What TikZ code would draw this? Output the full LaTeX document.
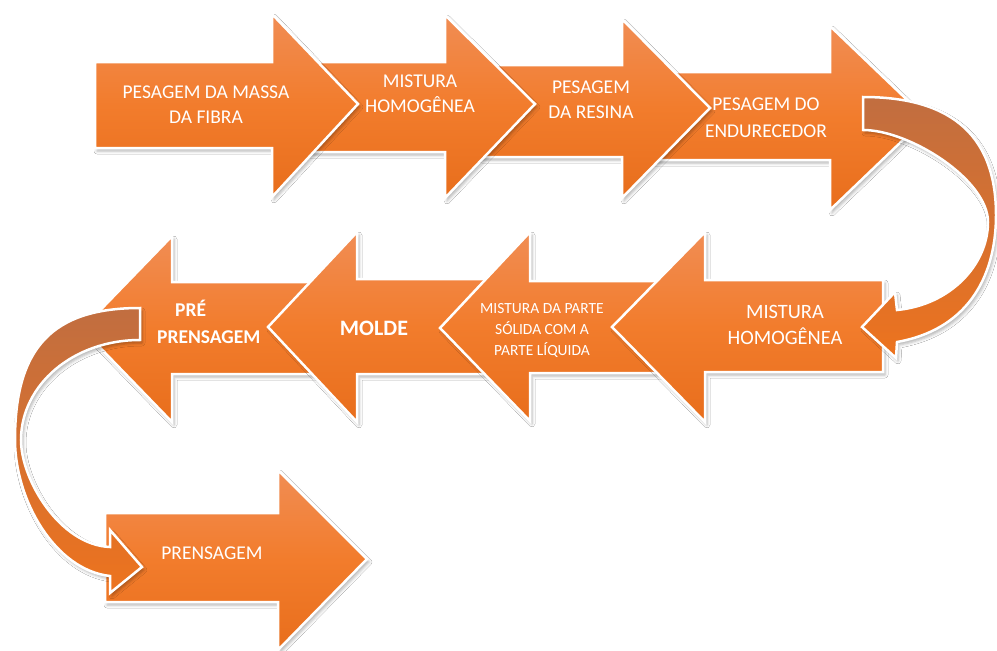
\documentclass[tikz,border=0pt]{standalone}
\usepackage{fontspec}
\setmainfont{Carlito}
\usetikzlibrary{shadows.blur}
\definecolor{oTop}{RGB}{241,141,84}
\definecolor{oMid}{RGB}{242,124,44}
\definecolor{oBot}{RGB}{232,110,28}
\definecolor{cTop}{RGB}{193,110,64}
\definecolor{cBot}{RGB}{237,115,30}
\begin{document}
\begin{tikzpicture}[x=1pt,y=-1pt,
  shad/.style={blur shadow={shadow xshift=2pt, shadow yshift=-3pt, shadow blur radius=3pt, shadow opacity=30}},
  arr/.style={shad, draw=white, line width=2.5pt, top color=oTop, bottom color=oBot, middle color=oMid},
  carr/.style={shad, draw=white, line width=2.5pt, top color=cTop, bottom color=cBot},
  lbl/.style={text=white, align=center, inner sep=0pt, font=\fontsize{19.5}{25}\selectfont},
]
\fill[white] (0,0) rectangle (997,651);
\useasboundingbox (0,0) rectangle (997,651);

% row 3
\path[arr] (105,513) -- (278,513) -- (278,470) -- (367,559) -- (278,650) -- (278,602) -- (105,602) -- cycle;
% row 2 (left pointing), back to front
\path[arr] (320,282) -- (172,282) -- (172,236) -- (82,329) -- (172,422) -- (172,374) -- (320,374) -- cycle;
\path[arr] (500,279) -- (357,279) -- (357,232) -- (268,327) -- (357,422) -- (357,374) -- (500,374) -- cycle;
\path[arr] (680,281) -- (530,281) -- (530,232) -- (440,328) -- (530,421) -- (530,373) -- (680,373) -- cycle;
\path[arr] (883,280) -- (705,280) -- (705,232) -- (612,327) -- (705,422) -- (705,372) -- (883,372) -- cycle;
% row 1, back to front
\path[arr] (650,72) -- (830,72) -- (830,26) -- (926,118) -- (830,210) -- (830,160) -- (650,160) -- cycle;
\path[arr] (480,65) -- (622,65) -- (622,19) -- (710,108) -- (622,198) -- (622,157) -- (480,157) -- cycle;
\path[arr] (300,62) -- (445,62) -- (445,15) -- (535,104) -- (445,198) -- (445,152) -- (300,152) -- cycle;
\path[arr] (95,62) -- (272,62) -- (272,14) -- (358,104) -- (272,197) -- (272,148) -- (95,148) -- cycle;

% curved arrow, right
\path[carr] (863,97) .. controls (945,97) and (996,130) .. (996,215)
  .. controls (996,280) and (965,330) .. (897,342)
  -- (896,358) -- (862,327) -- (895,292) -- (897,310)
  .. controls (950,305) and (988,265) .. (988,222)
  .. controls (988,180) and (910,130) .. (863,130) -- cycle;
% curved arrow, left
\path[carr] (140,308) .. controls (52,308) and (15,348) .. (15,440)
  .. controls (15,500) and (55,570) .. (110,576)
  -- (110,593) -- (142,567) -- (110,530) -- (110,547)
  .. controls (60,545) and (21,480) .. (21,440)
  .. controls (21,385) and (73,340) .. (140,340) -- cycle;

% labels
\node[lbl] (t1) at (206,105) {PESAGEM DA MASSA\\DA FIBRA};
\node[lbl] (t2) at (420,94) {MISTURA\\HOMOGÊNEA};
\node[lbl] (t3) at (591,100) {PESAGEM\\DA RESINA};
\node[lbl, font=\fontsize{19.5}{27}\selectfont] (t4) at (766,118) {PESAGEM DO\\ENDURECEDOR};
\node[lbl, font=\fontsize{20.4}{26}\selectfont] (t5) at (785,325) {MISTURA\\HOMOGÊNEA};
\node[lbl, font=\fontsize{15.5}{21}\selectfont] (t6) at (542,330) {MISTURA DA PARTE\\SÓLIDA COM A\\PARTE LÍQUIDA};
\node[lbl, font=\fontsize{22}{26}\selectfont\bfseries] (t7) at (374,328) {MOLDE};
\node[lbl, align=left, anchor=west, font=\fontsize{19.5}{27}\selectfont\bfseries] (t8) at (157,322) {\hspace*{18pt}PRÉ\\PRENSAGEM};
\node[lbl] (t9) at (212,553) {PRENSAGEM};
\end{tikzpicture}
\end{document}
